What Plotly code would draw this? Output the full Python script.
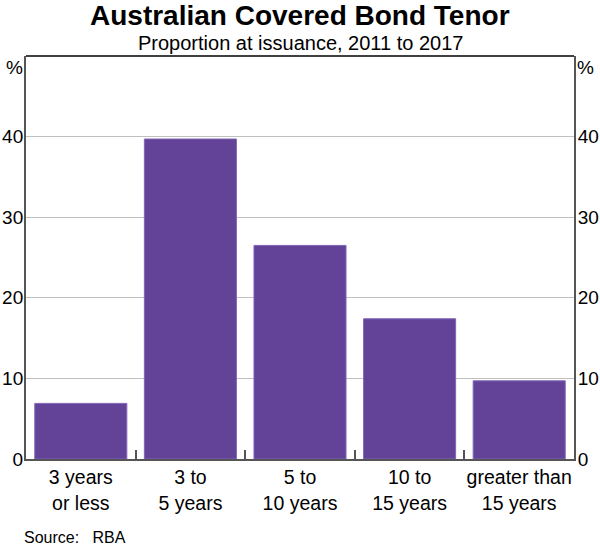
import plotly.graph_objects as go

categories = ["3 years<br>or less", "3 to<br>5 years", "5 to<br>10 years", "10 to<br>15 years", "greater than<br>15 years"]
values = [6.9, 39.7, 26.5, 17.4, 9.7]
ytick_vals = [0, 10, 20, 30, 40]
ytick_text = ["0", "10", "20", "30", "40"]

font_family = "Arial, Liberation Sans, sans-serif"
W, H = 600, 547
L, R, T, B = 26, 26, 56, 88

fig = go.Figure()
fig.add_trace(go.Bar(
    x=categories, y=values,
    marker=dict(color="#634397", line=dict(color="#8066b8", width=1)),
    showlegend=False, hoverinfo="skip",
))
# invisible trace for right axis
fig.add_trace(go.Scatter(x=categories, y=values, yaxis="y2", mode="markers",
                         marker=dict(opacity=0), showlegend=False, hoverinfo="skip"))

fig.update_layout(
    width=W, height=H,
    margin=dict(l=L, r=R, t=T, b=B, autoexpand=False),
    paper_bgcolor="white", plot_bgcolor="white",
    bargap=0.16,
    font=dict(family=font_family, size=19, color="black"),
    xaxis=dict(
        type="category", showline=True, linecolor="#555555", linewidth=2,
        ticks="inside", tickson="boundaries", ticklen=9, tickcolor="#555555", tickwidth=2,
        showgrid=False, tickfont=dict(size=19.5), automargin=False, tickangle=0,
    ),
    yaxis=dict(
        range=[0, 50], tickvals=ytick_vals, ticktext=ytick_text,
        showgrid=True, gridcolor="#c0c0c0", gridwidth=1,
        showline=True, linecolor="#555555", linewidth=2,
        ticks="", tickfont=dict(size=19), zeroline=False, automargin=False,
        ticklabelstandoff=-3,
    ),
    yaxis2=dict(
        range=[0, 50], tickvals=ytick_vals, ticktext=ytick_text,
        overlaying="y", side="right", showgrid=False,
        showline=True, linecolor="#555555", linewidth=2,
        ticks="", tickfont=dict(size=19), zeroline=False, automargin=False,
        ticklabelstandoff=-2,
    ),
    shapes=[dict(type="line", xref="paper", yref="paper", x0=0, x1=1, y0=1, y1=1,
                 line=dict(color="black", width=1.5))],
)

ph = H - T - B
def ypix(p):
    return (H - B - p) / ph

fig.add_annotation(text="<b>Australian Covered Bond Tenor</b>", x=0.5, xref="paper",
                   y=ypix(15), yref="paper", showarrow=False, font=dict(size=28),
                   xanchor="center", yanchor="middle")
fig.add_annotation(text="Proportion at issuance, 2011 to 2017", x=0.5, xref="paper",
                   y=ypix(43), yref="paper", showarrow=False, font=dict(size=20),
                   xanchor="center", yanchor="middle")
fig.add_annotation(text="%", x=0, xref="paper", xshift=-1, y=ypix(67), yref="paper",
                   showarrow=False, font=dict(size=19), xanchor="right", yanchor="middle")
fig.add_annotation(text="%", x=1, xref="paper", xshift=1, y=ypix(67), yref="paper",
                   showarrow=False, font=dict(size=19), xanchor="left", yanchor="middle")
fig.add_annotation(text="Source:&nbsp;&nbsp;&nbsp;RBA", x=0, xref="paper", xshift=-4,
                   y=ypix(537), yref="paper",
                   showarrow=False, font=dict(size=16), xanchor="left", yanchor="middle")

fig.write_html("out.html", config={"displayModeBar": False},
               post_script="document.body.style.margin='0';")
